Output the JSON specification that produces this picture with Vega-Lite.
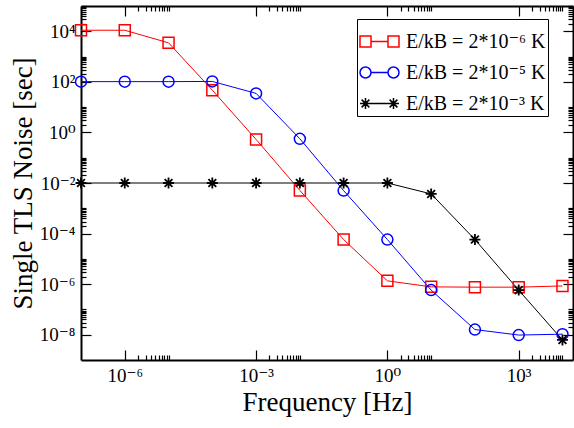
{
  "$schema": "https://vega.github.io/schema/vega-lite/v6.json",
  "width": 492,
  "height": 354,
  "autosize": {"type": "none"},
  "padding": {"left": 81, "top": 6, "right": 1, "bottom": 68},
  "background": "white",
  "config": {
    "view": {"stroke": null},
    "font": "Liberation Serif, Times New Roman, DejaVu Serif, serif",
    "axis": {
      "domainColor": "black",
      "domainWidth": 2,
      "tickColor": "black",
      "tickWidth": 1.2,
      "grid": false,
      "labelFont": "Liberation Serif, Times New Roman, DejaVu Serif, serif",
      "labelFontSize": 19,
      "labelColor": "black",
      "titleFont": "Liberation Serif, Times New Roman, DejaVu Serif, serif",
      "titleFontSize": 27,
      "titleFontWeight": "normal",
      "titleColor": "black"
    },
    "legend": {
      "labelFont": "Liberation Serif, Times New Roman, DejaVu Serif, serif",
      "title": null,
      "orient": "none",
      "legendX": 276,
      "legendY": 13,
      "strokeColor": "black",
      "fillColor": "white",
      "padding": 2,
      "labelFontSize": 20,
      "labelColor": "black",
      "labelOffset": 6,
      "symbolSize": 1521,
      "symbolStrokeWidth": 1.5,
      "symbolOpacity": 1,
      "symbolFillColor": "transparent",
      "rowPadding": 0
    }
  },
  "data": {
    "values": [
      {"f": 1e-7, "noise": 11000, "series": "E/kB = 2*10⁻⁶ K"},
      {"f": 1e-6, "noise": 11000, "series": "E/kB = 2*10⁻⁶ K"},
      {"f": 1e-5, "noise": 3500, "series": "E/kB = 2*10⁻⁶ K"},
      {"f": 1e-4, "noise": 47, "series": "E/kB = 2*10⁻⁶ K"},
      {"f": 1e-3, "noise": 0.53, "series": "E/kB = 2*10⁻⁶ K"},
      {"f": 1e-2, "noise": 0.0051, "series": "E/kB = 2*10⁻⁶ K"},
      {"f": 1e-1, "noise": 5.8e-5, "series": "E/kB = 2*10⁻⁶ K"},
      {"f": 1, "noise": 1.35e-6, "series": "E/kB = 2*10⁻⁶ K"},
      {"f": 10, "noise": 7.8e-7, "series": "E/kB = 2*10⁻⁶ K"},
      {"f": 100, "noise": 7.6e-7, "series": "E/kB = 2*10⁻⁶ K"},
      {"f": 1000, "noise": 7.6e-7, "series": "E/kB = 2*10⁻⁶ K"},
      {"f": 10000, "noise": 8.5e-7, "series": "E/kB = 2*10⁻⁶ K"},
      {"f": 1e-7, "noise": 102, "series": "E/kB = 2*10⁻⁵ K"},
      {"f": 1e-6, "noise": 102, "series": "E/kB = 2*10⁻⁵ K"},
      {"f": 1e-5, "noise": 102, "series": "E/kB = 2*10⁻⁵ K"},
      {"f": 1e-4, "noise": 104, "series": "E/kB = 2*10⁻⁵ K"},
      {"f": 1e-3, "noise": 35, "series": "E/kB = 2*10⁻⁵ K"},
      {"f": 1e-2, "noise": 0.56, "series": "E/kB = 2*10⁻⁵ K"},
      {"f": 1e-1, "noise": 0.005, "series": "E/kB = 2*10⁻⁵ K"},
      {"f": 1, "noise": 5.8e-5, "series": "E/kB = 2*10⁻⁵ K"},
      {"f": 10, "noise": 5.8e-7, "series": "E/kB = 2*10⁻⁵ K"},
      {"f": 100, "noise": 1.6e-8, "series": "E/kB = 2*10⁻⁵ K"},
      {"f": 1000, "noise": 9.7e-9, "series": "E/kB = 2*10⁻⁵ K"},
      {"f": 10000, "noise": 1.05e-8, "series": "E/kB = 2*10⁻⁵ K"},
      {"f": 1e-7, "noise": 0.01, "series": "E/kB = 2*10⁻³ K"},
      {"f": 1e-6, "noise": 0.01, "series": "E/kB = 2*10⁻³ K"},
      {"f": 1e-5, "noise": 0.01, "series": "E/kB = 2*10⁻³ K"},
      {"f": 1e-4, "noise": 0.01, "series": "E/kB = 2*10⁻³ K"},
      {"f": 1e-3, "noise": 0.01, "series": "E/kB = 2*10⁻³ K"},
      {"f": 1e-2, "noise": 0.01, "series": "E/kB = 2*10⁻³ K"},
      {"f": 1e-1, "noise": 0.01, "series": "E/kB = 2*10⁻³ K"},
      {"f": 1, "noise": 0.01, "series": "E/kB = 2*10⁻³ K"},
      {"f": 10, "noise": 0.0037, "series": "E/kB = 2*10⁻³ K"},
      {"f": 100, "noise": 5.8e-5, "series": "E/kB = 2*10⁻³ K"},
      {"f": 1000, "noise": 5.8e-7, "series": "E/kB = 2*10⁻³ K"},
      {"f": 10000, "noise": 6.2e-9, "series": "E/kB = 2*10⁻³ K"}
    ]
  },
  "resolve": {"axis": {"x": "independent", "y": "independent"}},
  "layer": [
    {
      "mark": {"type": "line", "strokeWidth": 1, "clip": false},
      "encoding": {
        "x": {
          "field": "f", "type": "quantitative",
          "scale": {"type": "log", "domain": [1e-7, 17400], "nice": false},
          "axis": {
            "orient": "bottom",
            "title": "Frequency [Hz]",
            "titlePadding": 4,
            "values": [1e-6, 2e-6, 3e-6, 4e-6, 5e-6, 6e-6, 7e-6, 8e-6, 9e-6, 1e-5, 0.001, 0.002, 0.003, 0.004, 0.005, 0.006, 0.007, 0.008, 0.009, 0.01, 1, 2, 3, 4, 5, 6, 7, 8, 9, 10, 1000, 2000, 3000, 4000, 5000, 6000, 7000, 8000, 9000, 10000],
            "tickSize": {"condition": {"test": "abs(log(datum.value)/LN10 - round(log(datum.value)/LN10)) < 0.001 && round(log(datum.value)/LN10) % 3 == 0", "value": -10}, "value": -5},
            "labelPadding": 16,
            "labelExpr": "(abs(log(datum.value)/LN10 - round(log(datum.value)/LN10)) < 0.001 && round(log(datum.value)/LN10) % 3 == 0) ? '10' + replace(replace(replace(replace(replace(''+round(log(datum.value)/LN10), '-', '⁻'), '0', '⁰'), '3', '³'), '6', '⁶'), '9', '⁹') : ''"
          }
        },
        "y": {
          "field": "noise", "type": "quantitative",
          "scale": {"type": "log", "domain": [1e-9, 1e5], "nice": false},
          "axis": {
            "orient": "left",
            "title": "Single TLS Noise [sec]",
            "titlePadding": 2,
            "values": [1e-8, 2e-8, 3e-8, 4e-8, 5e-8, 6e-8, 7e-8, 8e-8, 9e-8, 1e-7, 1e-6, 2e-6, 3e-6, 4e-6, 5e-6, 6e-6, 7e-6, 8e-6, 9e-6, 1e-5, 1e-4, 2e-4, 3e-4, 4e-4, 5e-4, 6e-4, 7e-4, 8e-4, 9e-4, 0.001, 0.01, 0.02, 0.03, 0.04, 0.05, 0.06, 0.07, 0.08, 0.09, 0.1, 1, 2, 3, 4, 5, 6, 7, 8, 9, 10, 100, 200, 300, 400, 500, 600, 700, 800, 900, 1000, 10000, 20000, 30000, 40000, 50000, 60000, 70000, 80000, 90000, 100000],
            "tickSize": {"condition": {"test": "abs(log(datum.value)/LN10 - round(log(datum.value)/LN10)) < 0.001 && round(log(datum.value)/LN10) % 2 == 0", "value": -10}, "value": -5},
            "labelPadding": 16,
            "labelExpr": "(abs(log(datum.value)/LN10 - round(log(datum.value)/LN10)) < 0.001 && round(log(datum.value)/LN10) % 2 == 0) ? '10' + replace(replace(replace(replace(replace(replace(replace(''+round(log(datum.value)/LN10), '-', '⁻'), '0', '⁰'), '2', '²'), '4', '⁴'), '6', '⁶'), '8', '⁸'), '9', '⁹') : ''"
          }
        },
        "color": {
          "field": "series", "type": "nominal",
          "scale": {"domain": ["E/kB = 2*10⁻⁶ K", "E/kB = 2*10⁻⁵ K", "E/kB = 2*10⁻³ K"], "range": ["#ff0000", "#0000ff", "#000000"]}
        }
      }
    },
    {
      "transform": [{"filter": {"field": "series", "equal": "E/kB = 2*10⁻⁶ K"}}],
      "mark": {"type": "point", "shape": "square", "filled": false, "strokeWidth": 1.5, "size": 121, "opacity": 1, "clip": false},
      "encoding": {
        "x": {
          "field": "f", "type": "quantitative",
          "axis": {
            "orient": "top",
            "title": null,
            "labels": false,
            "values": [1e-6, 2e-6, 3e-6, 4e-6, 5e-6, 6e-6, 7e-6, 8e-6, 9e-6, 1e-5, 0.001, 0.002, 0.003, 0.004, 0.005, 0.006, 0.007, 0.008, 0.009, 0.01, 1, 2, 3, 4, 5, 6, 7, 8, 9, 10, 1000, 2000, 3000, 4000, 5000, 6000, 7000, 8000, 9000, 10000],
            "tickSize": {"condition": {"test": "abs(log(datum.value)/LN10 - round(log(datum.value)/LN10)) < 0.001 && round(log(datum.value)/LN10) % 3 == 0", "value": -10}, "value": -5}
          }
        },
        "y": {
          "field": "noise", "type": "quantitative",
          "axis": {
            "orient": "right",
            "title": null,
            "labels": false,
            "values": [1e-8, 2e-8, 3e-8, 4e-8, 5e-8, 6e-8, 7e-8, 8e-8, 9e-8, 1e-7, 1e-6, 2e-6, 3e-6, 4e-6, 5e-6, 6e-6, 7e-6, 8e-6, 9e-6, 1e-5, 1e-4, 2e-4, 3e-4, 4e-4, 5e-4, 6e-4, 7e-4, 8e-4, 9e-4, 0.001, 0.01, 0.02, 0.03, 0.04, 0.05, 0.06, 0.07, 0.08, 0.09, 0.1, 1, 2, 3, 4, 5, 6, 7, 8, 9, 10, 100, 200, 300, 400, 500, 600, 700, 800, 900, 1000, 10000, 20000, 30000, 40000, 50000, 60000, 70000, 80000, 90000, 100000],
            "tickSize": {"condition": {"test": "abs(log(datum.value)/LN10 - round(log(datum.value)/LN10)) < 0.001 && round(log(datum.value)/LN10) % 2 == 0", "value": -10}, "value": -5}
          }
        },
        "color": {"field": "series", "type": "nominal"}
      }
    },
    {
      "transform": [{"filter": {"field": "series", "equal": "E/kB = 2*10⁻⁵ K"}}],
      "mark": {"type": "point", "shape": "circle", "filled": false, "strokeWidth": 1.5, "size": 121, "opacity": 1, "clip": false},
      "encoding": {
        "x": {"field": "f", "type": "quantitative", "axis": null},
        "y": {"field": "noise", "type": "quantitative", "axis": null},
        "color": {"field": "series", "type": "nominal"}
      }
    },
    {
      "transform": [{"filter": {"field": "series", "equal": "E/kB = 2*10⁻³ K"}}],
      "mark": {"type": "point", "shape": "M-1,0H1M0,-1V1M-0.71,-0.71L0.71,0.71M-0.71,0.71L0.71,-0.71", "filled": false, "strokeWidth": 1.8, "size": 121, "opacity": 1, "clip": false},
      "encoding": {
        "x": {"field": "f", "type": "quantitative", "axis": null},
        "y": {"field": "noise", "type": "quantitative", "axis": null},
        "color": {"field": "series", "type": "nominal"}
      }
    },
    {
      "mark": {"type": "point", "filled": false, "strokeWidth": 1.5, "size": 121, "opacity": 0, "clip": false},
      "encoding": {
        "x": {"field": "f", "type": "quantitative", "axis": null},
        "y": {"field": "noise", "type": "quantitative", "axis": null},
        "color": {"field": "series", "type": "nominal"},
        "shape": {
          "field": "series", "type": "nominal",
          "scale": {"domain": ["E/kB = 2*10⁻⁶ K", "E/kB = 2*10⁻⁵ K", "E/kB = 2*10⁻³ K"], "range": [
            "M-1,-0.282H-0.436V0.282H-1Z M-0.436,0H0.436 M0.436,-0.282H1V0.282H0.436Z",
            "M-0.436,0A0.282,0.282,0,1,1,-1,0A0.282,0.282,0,1,1,-0.436,0Z M-0.436,0H0.436 M1,0A0.282,0.282,0,1,1,0.436,0A0.282,0.282,0,1,1,1,0Z",
            "M-1,0H1M-0.718,-0.282V0.282M-0.917,-0.2L-0.519,0.2M-0.917,0.2L-0.519,-0.2M0.718,-0.282V0.282M0.519,-0.2L0.917,0.2M0.519,0.2L0.917,-0.2"
          ]}
        }
      }
    }
  ]
}
